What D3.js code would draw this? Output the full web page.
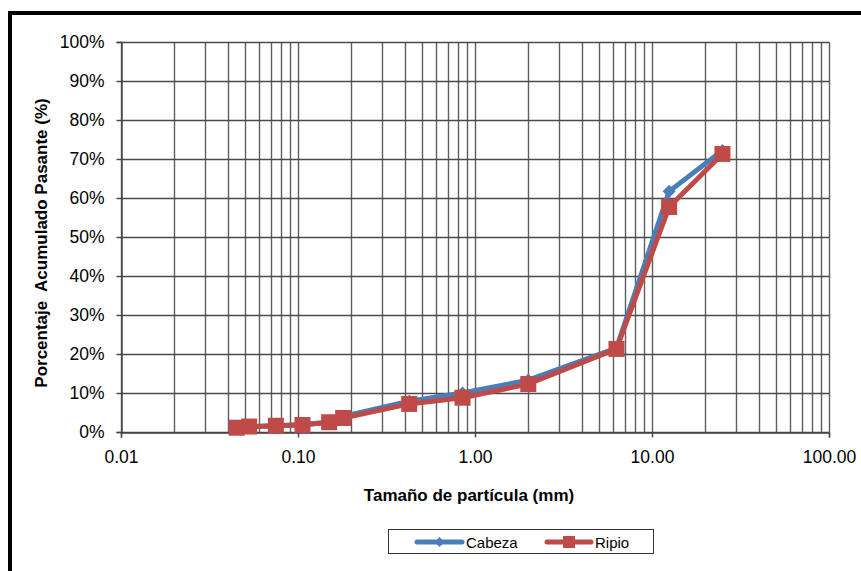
<!DOCTYPE html>
<html>
<head>
<meta charset="utf-8">
<script src="https://cdnjs.cloudflare.com/ajax/libs/d3/7.8.5/d3.min.js"></script>
<style>
  html, body { margin: 0; padding: 0; background: #fff; }
  svg { display: block; font-family: "Liberation Sans", Arial, sans-serif; }
</style>
</head>
<body>
<svg id="chart" width="861" height="571"></svg>
<script>
// Sieve openings (mm) and cumulative passing (%)
const sizes   = [0.045, 0.053, 0.075, 0.106, 0.150, 0.180, 0.425, 0.850, 2.00, 6.30, 12.5, 25.0];
const cabeza  = [1.1, 1.4, 1.6, 1.9, 2.5, 4.0, 7.9, 10.0, 13.3, 21.5, 61.7, 72.2];
const ripio   = [1.1, 1.4, 1.6, 1.8, 2.5, 3.6, 7.2, 8.8, 12.3, 21.3, 57.7, 71.3];
const seriesNames = ["Cabeza", "Ripio"];
const seriesColors = ["#4A7EBB", "#BE4B48"];
const xTickValues = [0.01, 0.1, 1, 10, 100];
const yTickValues = [0, 10, 20, 30, 40, 50, 60, 70, 80, 90, 100];
const xTitle = "Tamaño de partícula (mm)";
const yTitle = "Porcentaje  Acumulado Pasante (%)";

const svg = d3.select("#chart");
const plot = { left: 121, right: 829, top: 42, bottom: 432 };
const FONT = "'Liberation Sans', Arial, sans-serif";

const x = d3.scaleLog().domain([0.01, 100]).range([plot.left, plot.right]);
const y = d3.scaleLinear().domain([0, 100]).range([plot.bottom, plot.top]);

// outer frame (left and top edges)
svg.append("path")
  .attr("d", `M10,571 V13 H861`)
  .attr("fill", "none").attr("stroke", "#000").attr("stroke-width", 4);

// minor + major vertical grid lines (1..9 per decade)
const vGrid = [];
for (let e = -2; e < 2; e++) {
  for (let m = 1; m <= 9; m++) vGrid.push(m * Math.pow(10, e));
}
vGrid.push(100);
svg.append("g").selectAll("line").data(vGrid).join("line")
  .attr("x1", d => Math.round(x(d)) + 0.5).attr("x2", d => Math.round(x(d)) + 0.5)
  .attr("y1", plot.top).attr("y2", plot.bottom)
  .attr("stroke", "#5e5e5e").attr("stroke-width", 1.4);

// horizontal grid lines
svg.append("g").selectAll("line").data(yTickValues).join("line")
  .attr("x1", plot.left).attr("x2", plot.right)
  .attr("y1", d => Math.round(y(d)) + 0.5).attr("y2", d => Math.round(y(d)) + 0.5)
  .attr("stroke", "#4a4a4a").attr("stroke-width", 1.4);

// axes
const yAxis = d3.axisLeft(y).tickValues(yTickValues).tickFormat(d => d + "%")
  .tickSize(5).tickPadding(12);
const gy = svg.append("g").attr("transform", `translate(${plot.left + 0.5},0)`).call(yAxis);
gy.selectAll("text").attr("font-size", 17.5).attr("fill", "#000").attr("font-family", FONT);
gy.selectAll("line, path").attr("stroke", "#444").attr("stroke-width", 1.4);

const xAxis = d3.axisBottom(x).tickValues(xTickValues)
  .tickFormat(d3.format(".2f")).tickSize(5).tickPadding(13);
const gx = svg.append("g").attr("transform", `translate(0,${plot.bottom + 0.5})`).call(xAxis);
gx.selectAll("text").attr("font-size", 17.5).attr("fill", "#000").attr("font-family", FONT);
gx.selectAll("line, path").attr("stroke", "#444").attr("stroke-width", 1.4);

// axis titles
svg.append("text").attr("x", 469).attr("y", 501).attr("text-anchor", "middle")
  .attr("font-size", 17).attr("font-weight", "bold").attr("font-family", FONT).text(xTitle);
svg.append("text").attr("transform", "translate(47,243) rotate(-90)")
  .attr("text-anchor", "middle").attr("font-size", 17).attr("font-weight", "bold")
  .attr("font-family", FONT).attr("xml:space", "preserve").style("white-space", "pre")
  .text(yTitle);

// series
const seriesData = [cabeza, ripio];
const line = d3.line().x(d => x(d[0])).y(d => y(d[1]));
// diamond marker: a square turned 45 degrees
const diamond = d3.symbol().type(d3.symbolSquare).size(85);

seriesData.forEach((vals, i) => {
  const pts = sizes.map((s, k) => [s, vals[k]]);
  const g = svg.append("g");
  g.append("path").datum(pts).attr("d", line)
    .attr("fill", "none").attr("stroke", seriesColors[i])
    .attr("stroke-width", 5).attr("stroke-linejoin", "round");
  if (i === 0) {
    g.selectAll("path.m").data(pts).join("path").attr("class", "m")
      .attr("d", diamond)
      .attr("transform", d => `translate(${x(d[0])},${y(d[1])}) rotate(45)`)
      .attr("fill", seriesColors[i]);
  } else {
    g.selectAll("rect").data(pts).join("rect")
      .attr("x", d => x(d[0]) - 8).attr("y", d => y(d[1]) - 8)
      .attr("width", 16).attr("height", 16)
      .attr("fill", seriesColors[i]);
  }
});

// legend
const lg = svg.append("g");
lg.append("rect").attr("x", 388.5).attr("y", 529.5).attr("width", 265).attr("height", 24)
  .attr("fill", "#fff").attr("stroke", "#333").attr("stroke-width", 1);
const legendItems = [
  { name: seriesNames[0], color: seriesColors[0], x1: 417, x2: 462 },
  { name: seriesNames[1], color: seriesColors[1], x1: 547, x2: 591 }
];
legendItems.forEach((it, i) => {
  lg.append("line").attr("x1", it.x1).attr("x2", it.x2).attr("y1", 542).attr("y2", 542)
    .attr("stroke", it.color).attr("stroke-width", 5).attr("stroke-linecap", "round");
  if (i === 0) {
    lg.append("path").attr("d", d3.symbol().type(d3.symbolSquare).size(50)())
      .attr("transform", `translate(${(it.x1 + it.x2) / 2},542) rotate(45)`).attr("fill", it.color);
  } else {
    lg.append("rect").attr("x", (it.x1 + it.x2) / 2 - 6).attr("y", 536)
      .attr("width", 12).attr("height", 12).attr("fill", it.color);
  }
  lg.append("text").attr("x", it.x2 + 4).attr("y", 547.5)
    .attr("font-size", 15).attr("font-family", FONT).text(it.name);
});
</script>
</body>
</html>
